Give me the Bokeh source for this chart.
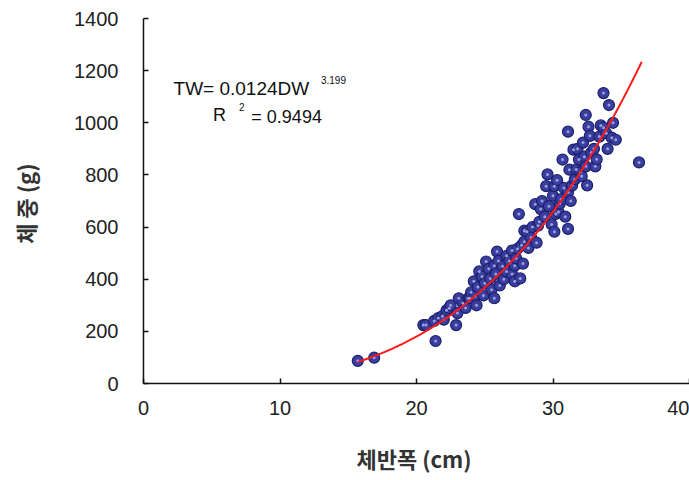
import numpy as np
from bokeh.plotting import figure
from bokeh.models import Label, Range1d, FixedTicker
from bokeh.embed import file_html
from bokeh.resources import INLINE

# carapace width (cm)
dw = [15.7, 16.9, 20.5, 20.7, 21.3, 21.4, 21.6, 21.9, 22.0, 22.2,
      22.4, 22.5, 22.9, 23.0, 23.1, 23.4, 23.6, 23.8, 23.9, 24.0,
      24.2, 24.3, 24.4, 24.5, 24.6, 24.8, 24.9, 25.0, 25.1, 25.3,
      25.4, 25.5, 25.7, 25.7, 25.8, 25.9, 26.0, 26.1, 26.3, 26.4,
      26.6, 26.6, 26.8, 27.0, 27.0, 27.2, 27.2, 27.3, 27.4, 27.5,
      27.6, 27.7, 27.8, 27.9, 27.9, 28.1, 28.2, 28.4, 28.5, 28.7,
      28.8, 28.9, 29.0, 29.1, 29.2, 29.4, 29.5, 29.6, 29.7, 29.9,
      30.0, 30.1, 30.1, 30.2, 30.3, 30.4, 30.5, 30.6, 30.7, 30.8,
      30.9, 31.1, 31.1, 31.1, 31.2, 31.3, 31.4, 31.5, 31.6, 31.7,
      31.8, 31.9, 32.0, 32.1, 32.2, 32.3, 32.4, 32.4, 32.5, 32.6,
      32.7, 32.8, 33.0, 33.1, 33.2, 33.4, 33.5, 33.7, 33.7, 33.9,
      34.0, 34.1, 34.3, 34.4, 34.6, 36.3]
# total weight (g)
tw = [87, 99, 224, 224, 240, 163, 251, 259, 245, 281,
      289, 300, 224, 270, 327, 308, 290, 327, 327, 350,
      392, 335, 300, 370, 430, 410, 338, 385, 468, 440,
      403, 360, 452, 327, 420, 506, 470, 376, 450, 400,
      430, 490, 470, 510, 420, 452, 392, 480, 517, 650,
      403, 530, 460, 544, 586, 582, 520, 560, 600, 688,
      540, 605, 620, 669, 700, 640, 757, 802, 680, 610,
      720, 757, 582, 650, 780, 658, 690, 707, 859, 750,
      640, 593, 734, 966, 820, 700, 760, 897, 783, 821,
      900, 859, 810, 795, 924, 870, 1030, 833, 760, 985,
      950, 886, 900, 833, 860, 947, 990, 981, 1114, 960,
      900, 1068, 943, 1000, 935, 848]

fit_a = 0.0124
fit_b = 3.199
fit_start = 15.7
fit_end = 36.5
x_ticks = [0, 10, 20, 30, 40]
y_ticks = [0, 200, 400, 600, 800, 1000, 1200, 1400]

p = figure(width=689, height=476, output_backend="svg", toolbar_location=None,
           x_range=Range1d(0, 40), y_range=Range1d(0, 1400),
           min_border_left=143, min_border_right=0, min_border_top=18,
           min_border_bottom=90)
p.outline_line_color = None
p.grid.visible = False
p.background_fill_color = "white"

# fitted curve
xf = np.linspace(fit_start, fit_end, 200)
yf = fit_a * xf ** fit_b

p.scatter(dw, tw, marker="circle", size=11, fill_color="#3a3f9f",
          line_color="#1c1f6c", line_width=1.2)
p.scatter(dw, tw, marker="circle", size=3, fill_color="#9aa0dc",
          line_color=None)
p.line(xf, yf, line_color="#ff1a1a", line_width=2)

font = "Liberation Sans"
for ax in (p.xaxis, p.yaxis):
    ax.axis_line_color = "#111111"
    ax.axis_line_width = 1.5
    ax.major_tick_line_color = "#111111"
    ax.major_tick_line_width = 1.5
    ax.major_tick_in = 5
    ax.major_tick_out = 0
    ax.minor_tick_line_color = None
    ax.major_label_text_font = font
    ax.major_label_text_font_size = "20px"
    ax.major_label_text_color = "#222222"

p.xaxis.ticker = FixedTicker(ticks=x_ticks)
p.yaxis.ticker = FixedTicker(ticks=y_ticks)
p.xaxis.major_label_standoff = 17
p.yaxis.major_label_standoff = 25

p.xaxis.axis_label = "체반폭  (cm)"
p.yaxis.axis_label = "체 중  (g)"
for ax in (p.xaxis, p.yaxis):
    ax.axis_label_text_font = "Noto Sans CJK KR"
    ax.axis_label_text_font_size = "22px"
    ax.axis_label_text_font_style = "bold"
    ax.axis_label_text_color = "#333333"
p.xaxis.axis_label_standoff = 24
p.yaxis.axis_label_standoff = 30

eq_color = "#111111"
p.add_layout(Label(x=2.2, y=1133, text="TW= 0.0124DW", text_font=font,
                   text_font_size="19px", text_color=eq_color,
                   text_baseline="middle"))
p.add_layout(Label(x=13.0, y=1165, text="3.199", text_font=font,
                   text_font_size="10px", text_color=eq_color,
                   text_baseline="middle"))
p.add_layout(Label(x=5.1, y=1030, text="R", text_font=font,
                   text_font_size="18px", text_color=eq_color,
                   text_baseline="middle"))
p.add_layout(Label(x=7.0, y=1062, text="2", text_font=font,
                   text_font_size="10px", text_color=eq_color,
                   text_baseline="middle"))
p.add_layout(Label(x=7.9, y=1023, text="= 0.9494", text_font=font,
                   text_font_size="18px", text_color=eq_color,
                   text_baseline="middle"))

open("out.html", "w").write(file_html(p, INLINE))
